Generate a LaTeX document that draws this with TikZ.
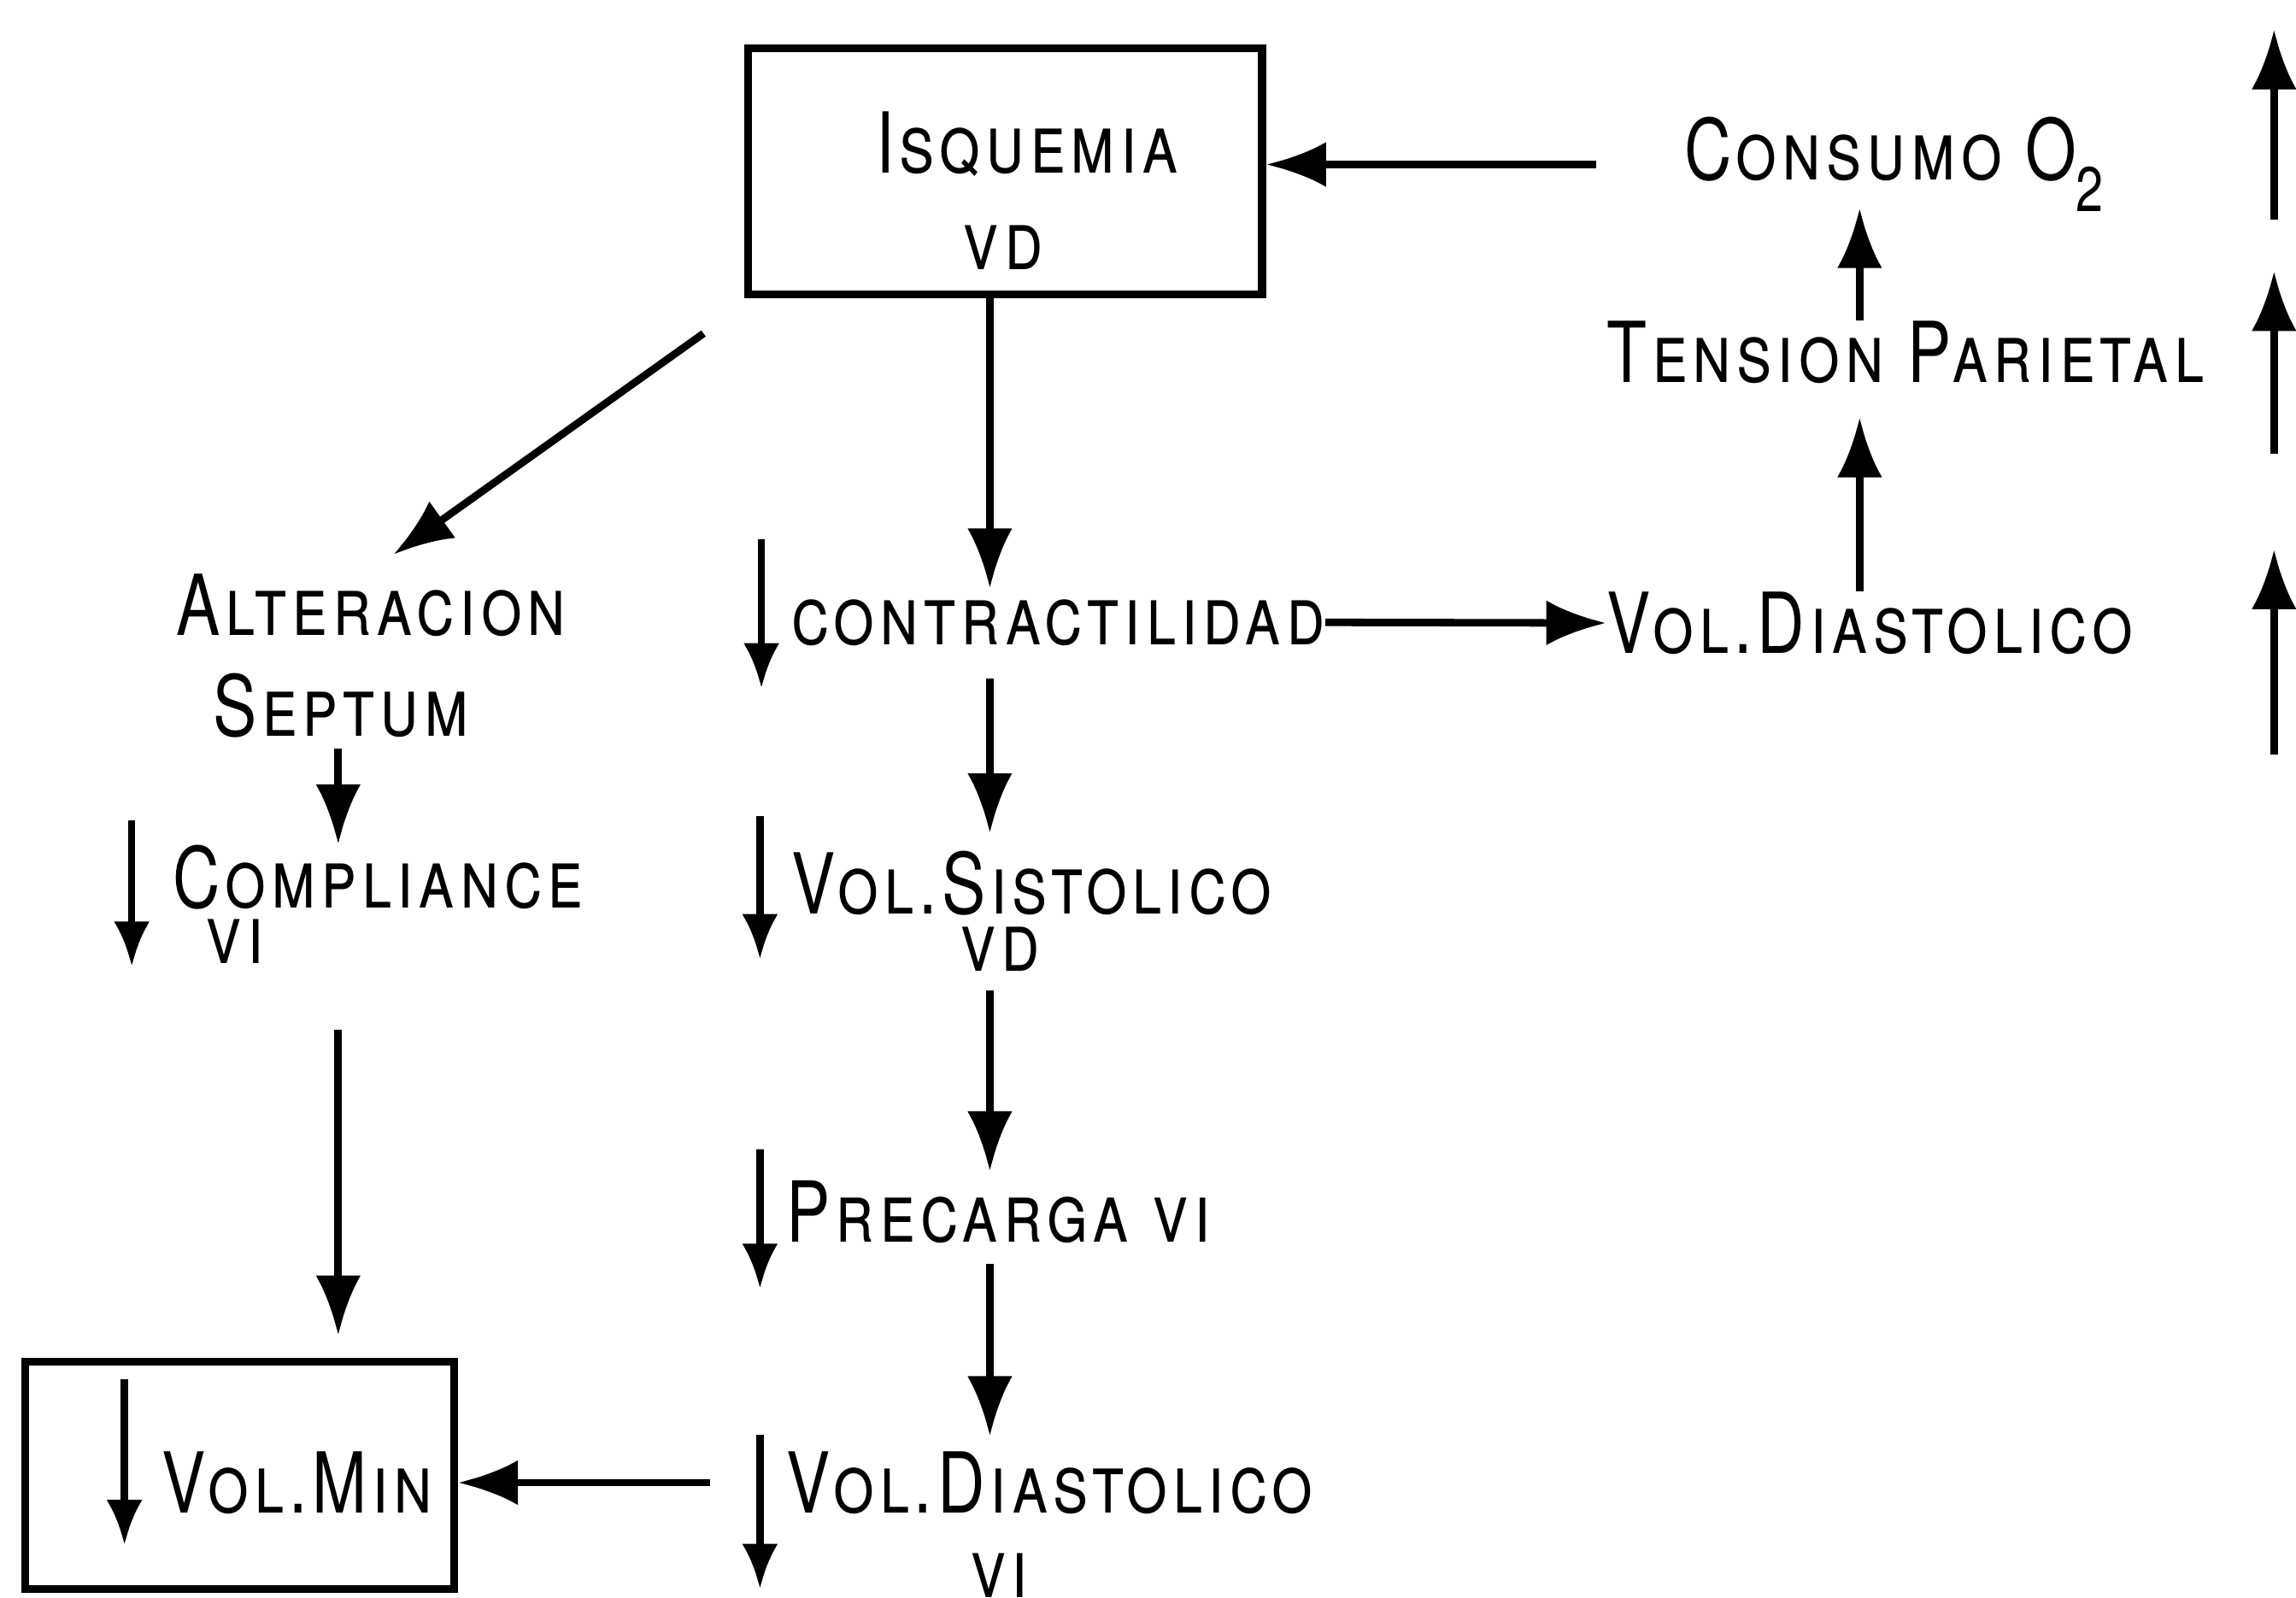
\documentclass[tikz,border=0pt]{standalone}
\usepackage{fontspec}
\setmainfont{TeX Gyre Heros}[FakeStretch=0.78, LetterSpace=6]
\usetikzlibrary{arrows.meta}

\tikzset{
  txt/.style={inner sep=0pt, anchor=base west, font=\fontsize{28}{32}\selectfont\scshape},
  caja/.style={draw, line width=2.6pt, inner sep=0pt},
  flecha/.style={line width=2.5pt, -{Latex[length=20pt, width=15pt]}},
  baja/.style={line width=2.4pt, -{Latex[length=15pt, width=12pt]}},
  sube/.style={line width=2.5pt, -{Latex[length=20pt, width=15pt]}},
}
\newcommand{\subdos}{\raisebox{-10.5pt}{\fontsize{21}{24}\selectfont 2}}

\begin{document}
\begin{tikzpicture}[x=0.017136cm, y=-0.017136cm]
  \useasboundingbox (0,0) rectangle (1568,1091);

  % columnas de las flechas
  \coordinate (colL) at (231,0);
  \coordinate (colC) at (676,0);
  \coordinate (colR) at (1270,0);
  \coordinate (colS) at (1553,0);

  % cajas
  \node[caja, minimum width=6.01cm, minimum height=2.88cm] (isq) at (686.5,117) {};
  \node[txt] (isqt) at (598,118) {Isquemia};
  \node[txt] (isqvd) at (657,184) {vd};

  \node[caja, minimum width=5.02cm, minimum height=2.66cm] (vmin) at (163.5,1007.5) {};
  \node[txt] (vmint) at (110,1033) {Vol.Min};

  % textos
  \node[txt] (cons) at (1150,123) {Consumo O\subdos};
  \node[txt] (tens) at (1097,261) {Tension Parietal};
  \node[txt] (vdr) at (1097,446) {Vol.Diastolico};
  \node[txt] (contr) at (540,440) {contractilidad};
  \node[txt] (alt) at (120,434) {Alteracion};
  \node[txt] (sep) at (145,503) {Septum};
  \node[txt] (comp) at (118,620) {Compliance};
  \node[txt] (compvi) at (140,658) {vi};
  \node[txt] (sist) at (540,624) {Vol.Sistolico};
  \node[txt] (sistvd) at (655,663) {vd};
  \node[txt] (prec) at (537,848) {Precarga vi};
  \node[txt] (vdi) at (537,1033) {Vol.Diastolico};
  \node[txt] (vdivi) at (662,1091) {vi};

  % conectores
  \draw[flecha, shorten <=1.03cm] (cons.west) -- (cons.west -| isq.east);
  \draw[flecha, shorten >=-0.05cm] (tens.north -| colR) -- (cons.south -| colR);
  \draw[flecha, shorten >=0.39cm] (vdr.north -| colR) -- (tens.south -| colR);
  \draw[flecha] (contr.east) -- (vdr.west);
  \draw[flecha, shorten >=0.12cm] (isq.south -| colC) -- (contr.north -| colC);
  \draw[flecha] (isq.south west) ++(-28,24) -- ([shift={(15,-13)}]alt.north);
  \draw[flecha, shorten <=0.12cm] (sep.south -| colL) -- (comp.north -| colL);
  \draw[flecha, shorten <=0.77cm, shorten >=0.26cm] (compvi.south -| colL) -- (vmin.north -| colL);
  \draw[flecha, shorten <=0.38cm, shorten >=0.2cm] (contr.south -| colC) -- (sist.north -| colC);
  \draw[flecha, shorten <=0.22cm, shorten >=0.1cm] (sistvd.south -| colC) -- (prec.north -| colC);
  \draw[flecha, shorten <=0.24cm, shorten >=0.17cm] (prec.south -| colC) -- (vdi.north -| colC);
  \draw[flecha, shorten <=0.89cm] (vdi.west) -- (vdi.west -| vmin.east);

  % disminuye
  \draw[baja] (contr.base west) ++(-20,-72) -- ++(0,102);
  \draw[baja] (comp.base west) ++(-28,-60) -- ++(0,100);
  \draw[baja] (sist.base west) ++(-21,-67) -- ++(0,98);
  \draw[baja] (prec.base west) ++(-18,-63) -- ++(0,95);
  \draw[baja] (vdi.base west) ++(-18,-53) -- ++(0,105);
  \draw[baja] (vmint.base west) ++(-25,-91) -- ++(0,113);

  % aumenta
  \draw[sube] (colS |- cons.base) ++(0,27) -- ++(0,-130);
  \draw[sube] (colS |- tens.base) ++(0,49) -- ++(0,-125);
  \draw[sube] (colS |- vdr.base) ++(0,69) -- ++(0,-140);
\end{tikzpicture}
\end{document}
